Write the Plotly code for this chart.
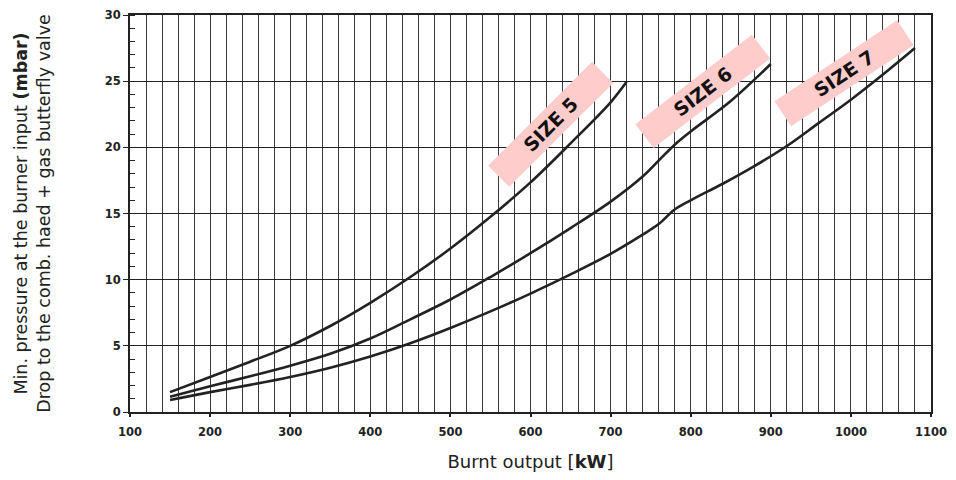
import plotly.graph_objects as go

# Burnt output (kW) and minimum pressure (mbar) for each burner size
size5_kw = [150, 200, 250, 300, 350, 400, 450, 500, 550, 600, 650, 700, 720]
size5_mbar = [1.5, 2.65, 3.8, 5.0, 6.5, 8.25, 10.2, 12.35, 14.75, 17.35, 20.3, 23.4, 24.95]

size6_kw = [150, 200, 250, 300, 350, 400, 450, 500, 550, 600, 650, 700, 740, 760, 780, 800, 850, 900]
size6_mbar = [1.15, 1.95, 2.7, 3.5, 4.4, 5.55, 7.0, 8.5, 10.2, 12.0, 13.9, 15.9, 17.8, 19.0, 20.2, 21.2, 23.5, 26.3]

size7_kw = [150, 200, 250, 300, 350, 400, 450, 500, 550, 600, 650, 700, 740, 760, 780, 800, 840, 880, 920, 960, 1000, 1040, 1080]
size7_mbar = [0.9, 1.5, 2.05, 2.65, 3.35, 4.2, 5.2, 6.35, 7.6, 8.95, 10.4, 11.95, 13.4, 14.2, 15.3, 16.0, 17.25, 18.6, 20.1, 21.85, 23.6, 25.5, 27.5]

x_ticks = [100, 200, 300, 400, 500, 600, 700, 800, 900, 1000, 1100]
y_ticks = [0, 5, 10, 15, 20, 25, 30]

labels = ["SIZE 5", "SIZE 6", "SIZE 7"]
label_x = [625, 815, 991]
label_y = [21.7, 24.2, 25.6]
label_angle = [-45, -37.5, -33.5]

fig = go.Figure()
for xs, ys, name in [(size5_kw, size5_mbar, labels[0]),
                     (size6_kw, size6_mbar, labels[1]),
                     (size7_kw, size7_mbar, labels[2])]:
    fig.add_trace(go.Scatter(x=xs, y=ys, mode="lines", name=name,
                             line=dict(color="#222222", width=2.6, shape="spline", smoothing=1.0),
                             showlegend=False, hoverinfo="x+y+name"))

for t, lx, ly, ang in zip(labels, label_x, label_y, label_angle):
    fig.add_annotation(x=lx, y=ly, text="<b>" + t + "</b>", showarrow=False,
                       textangle=ang, bgcolor="#ffcccc", width=144, height=27,
                       font=dict(family="DejaVu Sans", size=19, color="#111111"),
                       xanchor="center", yanchor="middle")

# page body has an 8px margin, so the figure is sized to end near the window edge
fig.update_layout(
    width=948, height=464,
    margin=dict(l=122, r=25, t=7, b=60),
    paper_bgcolor="white", plot_bgcolor="white",
    font=dict(family="DejaVu Sans", color="#222222"),
)

fig.update_xaxes(
    range=[100, 1100], tickvals=x_ticks, ticktext=[str(v) for v in x_ticks],
    tickfont=dict(family="DejaVu Sans", size=11.5, color="#222222", weight="bold"),
    ticks="outside", ticklen=3, tickcolor="#222222", tickwidth=1.5, ticklabelstandoff=5,
    showline=True, linecolor="#222222", linewidth=2, mirror=True,
    showgrid=False, zeroline=False, automargin=False, ticklabeloverflow="allow",
    minor=dict(dtick=20, tick0=100, showgrid=True, gridcolor="#3a3a3a", gridwidth=1, ticks=""),
    title=dict(text="Burnt output [<b>kW</b>]", font=dict(size=18, color="#222222"), standoff=22),
)

fig.update_yaxes(
    range=[0, 30], tickvals=y_ticks, ticktext=[str(v) for v in y_ticks],
    tickfont=dict(family="DejaVu Sans", size=11.5, color="#222222", weight="bold"),
    ticks="outside", ticklen=5, tickcolor="#222222", tickwidth=1,
    showline=True, linecolor="#222222", linewidth=2, mirror=True,
    showgrid=True, gridcolor="#222222", gridwidth=1, zeroline=False, automargin=False,
    ticklabeloverflow="allow",
    minor=dict(dtick=1, ticks="inside", ticklen=5, tickcolor="#222222", showgrid=False),
    title=dict(text="Min. pressure at the burner input <b>(mbar)</b><br>Drop to the comb. haed + gas butterfly valve",
               font=dict(size=17.5, color="#222222"), standoff=50),
)

fig.write_html("out.html")
